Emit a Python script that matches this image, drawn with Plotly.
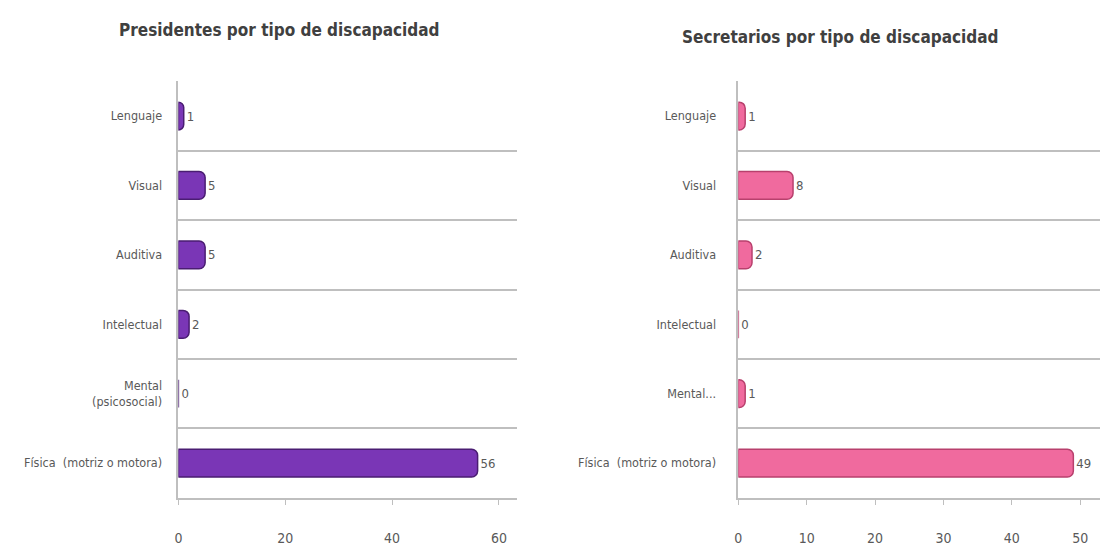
import plotly.graph_objects as go

cats_pres = ["Lenguaje", "Visual", "Auditiva", "Intelectual", "Mental<br>(psicosocial)", "Física  (motriz o motora)"]
vals_pres = [1, 5, 5, 2, 0, 56]
cats_sec = ["Lenguaje", "Visual", "Auditiva", "Intelectual", "Mental...", "Física  (motriz o motora)"]
vals_sec = [1, 8, 2, 0, 1, 49]
ticks_pres = [0, 20, 40, 60]
ticks_sec = [0, 10, 20, 30, 40, 50]

OFF = 8  # default page body margin
W, H = 1111 - 2 * OFF, 554 - 2 * OFF
FONT = "DejaVu Sans Condensed, Liberation Sans Narrow, Liberation Sans, sans-serif"
GRAY = "#595959"

fig = go.Figure()
fig.add_trace(go.Bar(
    y=cats_pres, x=vals_pres, orientation="h", width=0.4,
    marker=dict(color="#7a36b6", line=dict(color="#4a1d72", width=1.5)),
    text=[str(v) for v in vals_pres], textposition="outside",
    textfont=dict(color=GRAY, size=13, family=FONT), cliponaxis=False,
    xaxis="x", yaxis="y", showlegend=False))
fig.add_trace(go.Bar(
    y=cats_sec, x=vals_sec, orientation="h", width=0.4,
    marker=dict(color="#f06a9e", line=dict(color="#b8406d", width=1.5)),
    text=[str(v) for v in vals_sec], textposition="outside",
    textfont=dict(color=GRAY, size=13, family=FONT), cliponaxis=False,
    xaxis="x2", yaxis="y2", showlegend=False))

def px_x(p):
    return (p - OFF) / W

def px_y(p):
    return 1 - (p - OFF) / H

ydom = [px_y(509), px_y(83)]

common_y = dict(
    tickson="boundaries", showgrid=True, gridcolor="#bfbfbf", gridwidth=1.5,
    showline=True, linecolor="#bfbfbf", linewidth=1.5,
    ticks="", tickfont=dict(color=GRAY, size=12.5, family=FONT),
    autorange="reversed", domain=ydom, zeroline=False,
)
common_x = dict(
    showgrid=False, zeroline=False, showline=True, linecolor="#bfbfbf", linewidth=1.5,
    ticks="outside", ticklen=5, tickcolor="#bfbfbf",
    tickfont=dict(color=GRAY, size=14, family=FONT), ticklabelstandoff=22,
    tickmode="array",
)

fig.update_layout(
    width=W, height=H,
    margin=dict(l=0, r=0, t=0, b=0),
    paper_bgcolor="white", plot_bgcolor="white",
    barcornerradius=6,
    xaxis=dict(common_x, domain=[px_x(175), px_x(515)], range=[0, 63.4],
               tickvals=ticks_pres, anchor="y"),
    yaxis=dict(common_y, categoryorder="array", categoryarray=cats_pres,
               ticklabelstandoff=12, anchor="x"),
    xaxis2=dict(common_x, domain=[px_x(737), px_x(1100)], range=[0, 52.9],
                tickvals=ticks_sec, anchor="y2"),
    yaxis2=dict(common_y, categoryorder="array", categoryarray=cats_sec,
                ticklabelstandoff=18, anchor="x2"),
    annotations=[
        dict(text="<b>Presidentes por tipo de discapacidad</b>", x=px_x(276), y=px_y(30),
             xref="paper", yref="paper", showarrow=False, xanchor="center", yanchor="middle",
             font=dict(size=17, color="#404040", family=FONT)),
        dict(text="<b>Secretarios por tipo de discapacidad</b>", x=px_x(839), y=px_y(38),
             xref="paper", yref="paper", showarrow=False, xanchor="center", yanchor="middle",
             font=dict(size=17, color="#404040", family=FONT)),
    ],
)

fig.write_html("out.html")
